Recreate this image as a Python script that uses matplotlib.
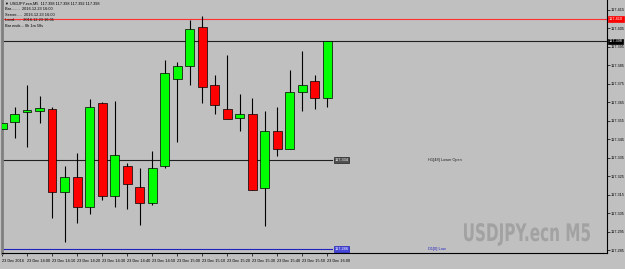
import matplotlib
matplotlib.use("Agg")
import matplotlib.pyplot as plt
import numpy as np
from matplotlib.textpath import TextPath
from matplotlib.patches import PathPatch
from matplotlib.font_manager import FontProperties
from matplotlib.transforms import Affine2D, IdentityTransform

plt.rcParams["font.family"] = ["Liberation Sans", "DejaVu Sans"]

# M5 bars, 23 Dec 2016 13:50 .. 16:00
opens  = [117.3507, 117.3546, 117.3597, 117.3606, 117.3616, 117.3166, 117.3246, 117.3087, 117.3646,
          117.3145, 117.3307, 117.3195, 117.3105, 117.3307, 117.3775, 117.3847, 117.4060, 117.3745,
          117.3616, 117.3565, 117.3586, 117.3186, 117.3496, 117.3397, 117.3705, 117.3766, 117.3676]
highs  = [117.3863, 117.3627, 117.3745, 117.3685, 117.3624, 117.3308, 117.3375, 117.3669, 117.3650,
          117.3660, 117.3325, 117.3298, 117.3388, 117.3880, 117.3870, 117.4096, 117.4118, 117.3799,
          117.3907, 117.3696, 117.3676, 117.3606, 117.3627, 117.3826, 117.3928, 117.3799, 117.3980]
lows   = [117.3485, 117.3456, 117.3408, 117.3538, 117.3024, 117.2898, 117.2997, 117.3047, 117.3123,
          117.3087, 117.3076, 117.2988, 117.3096, 117.3298, 117.3435, 117.3745, 117.3646, 117.3586,
          117.3559, 117.3496, 117.3177, 117.2984, 117.3362, 117.3397, 117.3606, 117.3616, 117.3627]
closes = [117.3539, 117.3586, 117.3609, 117.3619, 117.3166, 117.3246, 117.3087, 117.3627, 117.3145,
          117.3365, 117.3208, 117.3108, 117.3294, 117.3808, 117.3847, 117.4047, 117.3735, 117.3636,
          117.3559, 117.3586, 117.3177, 117.3496, 117.3397, 117.3705, 117.3745, 117.3676, 117.3980]

time_labels = ["23 Dec 2016", "23 Dec 14:00", "23 Dec 14:10", "23 Dec 14:20", "23 Dec 14:30",
               "23 Dec 14:40", "23 Dec 14:50", "23 Dec 15:00", "23 Dec 15:10", "23 Dec 15:20",
               "23 Dec 15:30", "23 Dec 15:40", "23 Dec 15:50", "23 Dec 16:00"]
price_ticks = [117.415, 117.405, 117.395, 117.385, 117.375, 117.365, 117.355, 117.345,
               117.335, 117.325, 117.315, 117.305, 117.295, 117.285]

bid = 117.398
ask = 117.410
h1_open = 117.334
d1_low = 117.286

header = ["\u25bc USDJPY.ecn,M5  117.398 117.398 117.392 117.398",
          "Bar........  2016.12.23 16:00",
          "Server.....  2016.12.23 16:00",
          "Local......  2016.12.23 16:01",
          "Bar ends... 0h 1m 58s"]

BG = "#c0c0c0"
SMALL = 2.8
W, H = 625, 269
fig = plt.figure(figsize=(W / 100, H / 100), dpi=100, facecolor=BG)
ax = fig.add_axes([2 / W, 16 / H, 605 / W, 253 / H], facecolor=BG)

x = np.arange(len(opens))
for i in x:
    o, h, l, c = opens[i], highs[i], lows[i], closes[i]
    col = "#00ff00" if c >= o else "#ff0000"
    ax.vlines(i, l, h, color="black", lw=0.8, zorder=2)
    ax.bar(i, abs(c - o) if abs(c - o) > 0.0004 else 0.0004, bottom=min(o, c), width=0.72,
           color=col, edgecolor="black", lw=0.5, zorder=3)

ax.set_xlim(0, 605 / 12.5)
ax.set_ylim(117.4204 - 253 / 1850, 117.4204)

# horizontal levels
ax.axhline(ask, color="#ff3030", lw=0.8, zorder=1)
ax.axhline(bid, color="#202020", lw=0.8, zorder=1)
ax.plot([0, 26.4], [h1_open, h1_open], color="#202020", lw=0.8, zorder=1)
ax.plot([0, 26.4], [d1_low, d1_low], color="#2020c0", lw=0.8, zorder=1)
ax.text(26.6, h1_open, f"{h1_open:.3f}", fontsize=SMALL, color="white", va="center",
        bbox=dict(boxstyle="square,pad=0.25", fc="#505050", ec="#202020", lw=0.5))
ax.text(26.6, d1_low, f"{d1_low:.3f}", fontsize=SMALL, color="white", va="center",
        bbox=dict(boxstyle="square,pad=0.25", fc="#4848d8", ec="#2020c0", lw=0.5))
ax.text(34.1, h1_open, "H1[48] Lower Open", fontsize=SMALL, color="#202020", va="center")
ax.text(34.1, d1_low, "D1[0] Low", fontsize=SMALL, color="#2020c0", va="center")

# watermark, squeezed to a condensed look (pixel coords)
tp = TextPath((0, 0), "USDJPY.ecn M5", size=10,
              prop=FontProperties(family="DejaVu Sans", weight="bold"))
bb = tp.get_extents()
cap = TextPath((0, 0), "U", size=10, prop=FontProperties(family="DejaVu Sans", weight="bold")).get_extents()
sx = 126 / bb.width
sy = 18 / cap.height
tr = Affine2D().translate(-bb.x0, 0).scale(sx, sy).translate(464, H - 241) + IdentityTransform()
fig.patches.append(PathPatch(tp, transform=tr, fc="#a2a2a2", ec="none", zorder=0.5))

# header
for k, line in enumerate(header):
    ax.text(0.005, 1 - 0.007 - k * 0.022, line, transform=ax.transAxes, fontsize=SMALL,
            va="top", ha="left", color="black")

# axes styling
ax.yaxis.tick_right()
ax.set_yticks(price_ticks)
ax.set_yticklabels([f"{p:.3f}" for p in price_ticks], fontsize=SMALL)
ax.tick_params(axis="y", length=2, width=0.5, pad=0.8)
ax.set_xticks(x[::2])
ax.set_xticklabels(time_labels, fontsize=SMALL, ha="left")
ax.tick_params(axis="x", length=2, width=0.5, pad=2.5)
ax.spines["top"].set_visible(False)
ax.spines["left"].set_color("#808080")
ax.spines["left"].set_linewidth(2)
ax.spines["right"].set_color("black")
ax.spines["bottom"].set_color("black")
ax.spines["right"].set_linewidth(0.8)
ax.spines["bottom"].set_linewidth(0.8)

# price labels on axis
for val, fc in [(ask, "#ff0000"), (bid, "black")]:
    ax.annotate(f"{val:.3f}", xy=(1.0, val), xycoords=("axes fraction", "data"),
                xytext=(1.2, 0), textcoords="offset points", fontsize=SMALL, color="white",
                va="center", ha="left", annotation_clip=False,
                bbox=dict(boxstyle="square,pad=0.2", fc=fc, ec=fc, lw=0.5))

fig.savefig("out.png", dpi=100, facecolor=BG)
